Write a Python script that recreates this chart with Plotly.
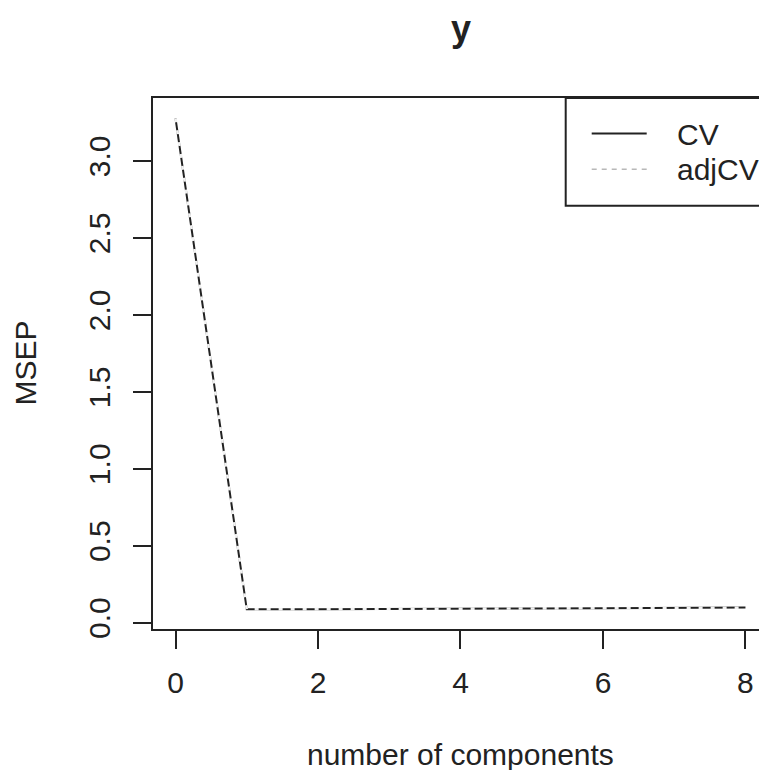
import plotly.graph_objects as go

# ---- data ----
components = [0, 1, 2, 3, 4, 5, 6, 7, 8]
cv_msep = [3.277, 0.087, 0.088, 0.091, 0.092, 0.093, 0.094, 0.096, 0.098]
adjcv_msep = [3.277, 0.087, 0.088, 0.090, 0.091, 0.093, 0.094, 0.095, 0.097]
x_ticks = [0, 2, 4, 6, 8]
y_ticks = [0.0, 0.5, 1.0, 1.5, 2.0, 2.5, 3.0]
series_names = ["CV", "adjCV"]
title_text = "y"
x_title = "number of components"
y_title = "MSEP"

FONT = "Liberation Sans, Arial, Helvetica, sans-serif"
INK = "#222222"

W, H = 759, 770
L, T, R = 153, 98, 0
B = H - 629
PW, PH = W - L - R, H - T - B


def px(x):
    return (x - L) / PW


def py(y):
    return (H - B - y) / PH


fig = go.Figure()
fig.add_trace(go.Scatter(x=components, y=cv_msep, mode="lines", name=series_names[0],
                         line=dict(color=INK, width=2.0), showlegend=False))
fig.add_trace(go.Scatter(x=components, y=adjcv_msep, mode="lines", name=series_names[1],
                         line=dict(color="#f2f2f2", width=2.6, dash="4px,8px"), showlegend=False))

fig.update_layout(
    width=W, height=H,
    margin=dict(l=L, r=R, t=T, b=B, pad=0, autoexpand=False),
    paper_bgcolor="white", plot_bgcolor="white",
    font=dict(family=FONT, size=30, color=INK),
    showlegend=False,
)
fig.update_xaxes(
    range=[-0.316, 8.19], tickvals=x_ticks, ticktext=[str(v) for v in x_ticks],
    showline=True, linecolor=INK, linewidth=2, mirror=True,
    ticks="outside", ticklen=18, tickwidth=1.5, tickcolor=INK,
    showgrid=False, zeroline=False, ticklabelstandoff=8, automargin=False,
    tickfont=dict(family=FONT, size=30, color=INK),
)
fig.update_yaxes(
    range=[-0.041, 3.409], tickvals=y_ticks, ticktext=[f"{v:.1f}" for v in y_ticks],
    showline=True, linecolor=INK, linewidth=2, mirror=False,
    ticks="outside", ticklen=18, tickwidth=1.5, tickcolor=INK,
    showgrid=False, zeroline=False, tickangle=-90, ticklabelstandoff=11, automargin=False,
    tickfont=dict(family=FONT, size=30, color=INK),
)

# title and axis titles
fig.add_annotation(text=f"<b>{title_text}</b>", xref="paper", yref="paper",
                   x=px(460.7), y=py(29), xanchor="center", yanchor="middle",
                   showarrow=False, font=dict(family=FONT, size=36, color=INK))
fig.add_annotation(text=x_title, xref="paper", yref="paper",
                   x=px(460.7), y=py(754), xanchor="center", yanchor="middle",
                   showarrow=False, font=dict(family=FONT, size=30, color=INK))
fig.add_annotation(text=y_title, xref="paper", yref="paper",
                   x=px(25), y=py(363.5), xanchor="center", yanchor="middle", textangle=-90,
                   showarrow=False, font=dict(family=FONT, size=30, color=INK))

# legend box (R style)
fig.add_shape(type="rect", xref="paper", yref="paper",
              x0=px(565.7), x1=px(800), y0=py(205.7), y1=py(98),
              line=dict(color=INK, width=2), fillcolor="white", layer="above")
fig.add_shape(type="line", xref="paper", yref="paper",
              x0=px(591.7), x1=px(646.7), y0=py(133.5), y1=py(133.5),
              line=dict(color=INK, width=2))
fig.add_shape(type="line", xref="paper", yref="paper",
              x0=px(591.7), x1=px(646.7), y0=py(169.3), y1=py(169.3),
              line=dict(color="#b8b8b8", width=1.5, dash="5px,5px"))
fig.add_annotation(text=series_names[0], xref="paper", yref="paper",
                   x=px(675), y=py(134), xanchor="left", yanchor="middle",
                   showarrow=False, font=dict(family=FONT, size=30, color=INK))
fig.add_annotation(text=series_names[1], xref="paper", yref="paper",
                   x=px(675), y=py(169.5), xanchor="left", yanchor="middle",
                   showarrow=False, font=dict(family=FONT, size=30, color=INK))

# remove the browser's default 8px body margin so the figure fills the window
fig.write_html("out.html", config={"displayModeBar": False},
               post_script="document.body.style.margin='0';")
